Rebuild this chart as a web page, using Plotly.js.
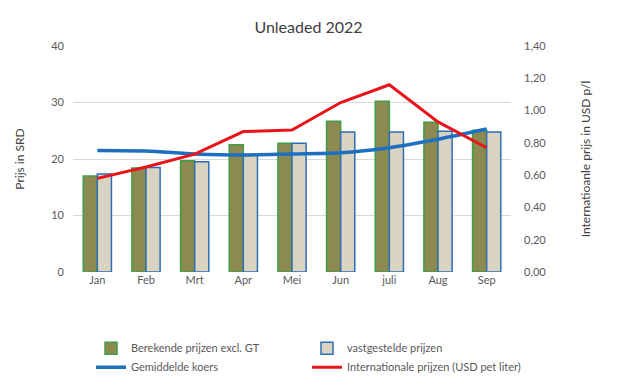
<!DOCTYPE html>
<html>
<head>
<meta charset="utf-8">
<script src="https://cdn.plot.ly/plotly-3.0.1.min.js"></script>
<style>html,body{margin:0;padding:0;background:#fff;}#chart{width:617px;height:388px;}</style>
</head>
<body>
<div id="chart"></div>
<script>
const months = ["Jan", "Feb", "Mrt", "Apr", "Mei", "Jun", "juli", "Aug", "Sep"];
const berekend = [17.0, 18.4, 19.7, 22.5, 22.8, 26.7, 30.2, 26.5, 25.1];
const vastgesteld = [17.35, 18.5, 19.5, 20.7, 22.8, 24.8, 24.8, 24.9, 24.8];
const koers = [21.5, 21.4, 20.9, 20.7, 20.9, 21.1, 22.0, 23.5, 25.3];
const internationaal = [0.58, 0.65, 0.73, 0.87, 0.88, 1.05, 1.16, 0.93, 0.77];
const leftTicks = [0, 10, 20, 30, 40];
const rightTicks = [0, 0.2, 0.4, 0.6, 0.8, 1.0, 1.2, 1.4];

const gray = '#595959';
const fontFam = 'Lato, "Open Sans", sans-serif';

const traces = [
  {type: 'bar', name: 'Berekende prijzen excl. GT', x: months, y: berekend,
   marker: {color: '#8c8a50', line: {color: '#3f9e48', width: 1.5}}},
  {type: 'bar', name: 'vastgestelde prijzen', x: months, y: vastgesteld,
   marker: {color: '#d9d4c1', line: {color: '#2f6db5', width: 1.5}}},
  {type: 'scatter', mode: 'lines', name: 'Gemiddelde koers', x: months, y: koers,
   line: {color: '#1f6fc0', width: 3.5, shape: 'spline', smoothing: 0.8}},
  {type: 'scatter', mode: 'lines', name: 'Internationale prijzen (USD pet liter)', x: months, y: internationaal,
   yaxis: 'y2', line: {color: '#e8141a', width: 3}}
];

const layout = {
  width: 617, height: 388,
  margin: {l: 73, r: 106, t: 46, b: 116, autoexpand: false},
  paper_bgcolor: '#ffffff', plot_bgcolor: '#ffffff',
  separators: ', ',
  font: {family: fontFam, color: gray, size: 11},
  title: {text: 'Unleaded 2022', x: 0.5, xanchor: 'center', y: 0.93, yanchor: 'middle',
          yref: 'container', font: {size: 16, color: '#404040', family: fontFam}},
  barmode: 'group', bargap: 0.42, bargroupgap: 0,
  showlegend: true,
  legend: {orientation: 'h', xref: 'container', yref: 'container', x: 0.1475, xanchor: 'left',
           y: 0.14, yanchor: 'top',
           entrywidth: 171, entrywidthmode: 'pixels', traceorder: 'normal',
           font: {size: 11, color: gray, family: fontFam}, itemwidth: 30, tracegroupgap: 0},
  xaxis: {showgrid: false, showline: false, zeroline: false, ticks: '',
          tickfont: {size: 11, color: gray}, fixedrange: true},
  yaxis: {range: [0, 40], tickvals: leftTicks, showgrid: true, gridcolor: '#d9d9d9', gridwidth: 1,
          zeroline: false, showline: false, ticks: '', tickfont: {size: 11, color: gray},
          ticklabelstandoff: 8,
          title: {text: 'Prijs in SRD', font: {size: 12, color: '#404040'}, standoff: 24}},
  yaxis2: {range: [0, 1.4], tickvals: rightTicks, tickformat: '.2f', overlaying: 'y', side: 'right',
           showgrid: false, zeroline: false, showline: false, ticks: '', tickfont: {size: 11, color: gray},
           ticklabelstandoff: 12,
           title: {text: 'Internatioanle prijs in USD p/l', font: {size: 12, color: '#404040'}, standoff: 36}}
};

Plotly.newPlot('chart', traces, layout, {displayModeBar: false, staticPlot: true});
</script>
</body>
</html>
